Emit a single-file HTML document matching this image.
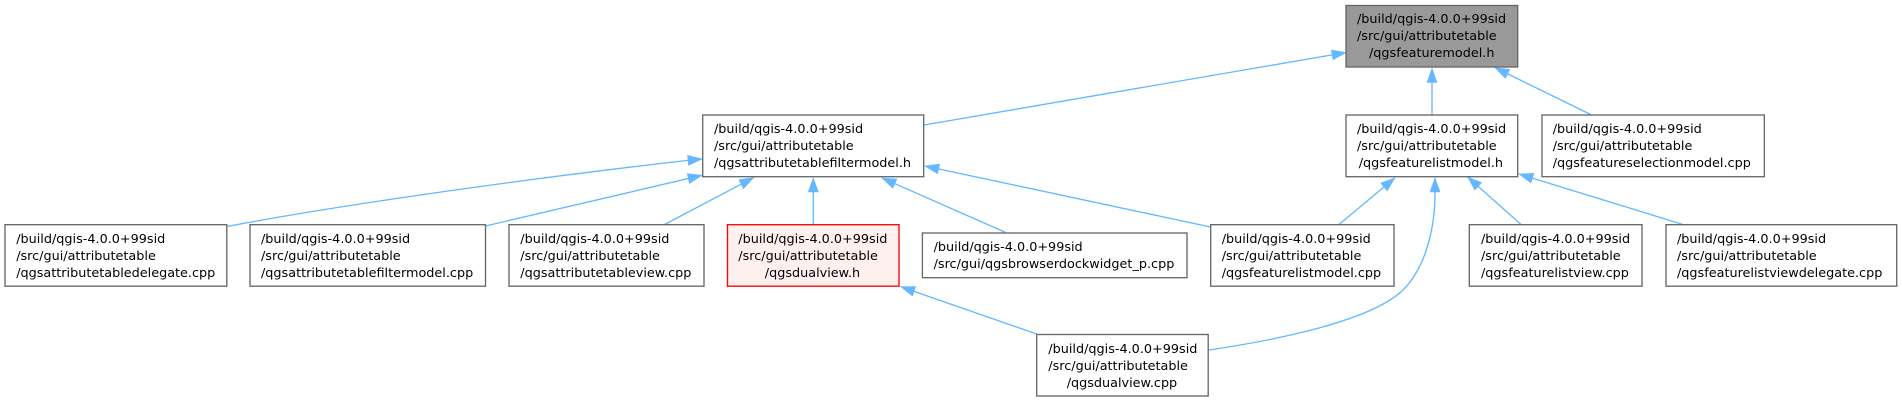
<!DOCTYPE html>
<html><head><meta charset="utf-8"><style>
html,body{margin:0;padding:0;background:#fff}
svg{display:block}
text{font-family:"DejaVu Sans",sans-serif;font-size:12.8px;fill:#000}
.b{fill:#fff;stroke:#666;stroke-width:1.33}
.e{fill:none;stroke:#63b8ff;stroke-width:1.33;marker-start:url(#a)}
</style></head><body>
<svg width="1902" height="401" viewBox="0 0 1902 401" xmlns="http://www.w3.org/2000/svg">
<defs><marker id="a" markerUnits="userSpaceOnUse" markerWidth="18" markerHeight="14" refX="0" refY="7" orient="auto" overflow="visible"><polygon points="0,7 14,2 14,12" fill="#63b8ff" stroke="#63b8ff" stroke-width="0.6"/></marker></defs>
<path class="e" d="M1346,52.5 L924,125"/>
<path class="e" d="M1432,68.5 L1432,115"/>
<path class="e" d="M1495,67.7 L1590.6,114.5"/>
<path class="e" d="M1394.8,178 L1339,224.5"/>
<path class="e" d="M1435,178 L1435,193 C1435,230 1425,268 1403,290 C1370,322 1270,341 1209,350"/>
<path class="e" d="M1467.7,177 L1521,224.5"/>
<path class="e" d="M1519,174 L1683,224.5"/>
<path class="e" d="M702,159 L687,160.5 C550,176 350,203 227,226.5"/>
<path class="e" d="M702,175.3 L485.5,226"/>
<path class="e" d="M753.6,177.7 L664.5,224.5"/>
<path class="e" d="M813.3,178 L813.3,224.5"/>
<path class="e" d="M882,178 L1005.7,232.5"/>
<path class="e" d="M925,166 L1210.5,227"/>
<path class="e" d="M900.8,286.7 L1036.7,334"/>

<rect x="1346" y="5.5" width="171.7" height="61.5" fill="#999" stroke="#666" stroke-width="1.33"/>
<text x="1357" y="23">/build/qgis-4.0.0+99sid</text><text x="1357" y="40">/src/gui/attributetable</text><text x="1369" y="57">/qgsfeaturemodel.h</text>

<rect class="b" x="702.7" y="115" width="221" height="61.7"/>
<text x="714" y="133">/build/qgis-4.0.0+99sid</text><text x="714" y="150">/src/gui/attributetable</text><text x="714" y="167">/qgsattributetablefiltermodel.h</text>

<rect class="b" x="1346" y="115" width="171.7" height="61.7"/>
<text x="1357" y="133">/build/qgis-4.0.0+99sid</text><text x="1357" y="150">/src/gui/attributetable</text><text x="1358.7" y="167">/qgsfeaturelistmodel.h</text>

<rect class="b" x="1542" y="115" width="222.3" height="61.7"/>
<text x="1552.7" y="133">/build/qgis-4.0.0+99sid</text><text x="1552.7" y="150">/src/gui/attributetable</text><text x="1552.7" y="167">/qgsfeatureselectionmodel.cpp</text>

<rect class="b" x="5" y="224.7" width="221.8" height="61.5"/>
<text x="16.2" y="243">/build/qgis-4.0.0+99sid</text><text x="16.2" y="260">/src/gui/attributetable</text><text x="16.2" y="277">/qgsattributetabledelegate.cpp</text>

<rect class="b" x="250" y="224.7" width="235.5" height="61.5"/>
<text x="261" y="243">/build/qgis-4.0.0+99sid</text><text x="261" y="260">/src/gui/attributetable</text><text x="261" y="277">/qgsattributetablefiltermodel.cpp</text>

<rect class="b" x="509" y="224.7" width="195" height="61.5"/>
<text x="520.3" y="243">/build/qgis-4.0.0+99sid</text><text x="520.3" y="260">/src/gui/attributetable</text><text x="520.3" y="277">/qgsattributetableview.cpp</text>

<rect x="727.5" y="224.7" width="171.5" height="61.5" fill="#fff0f0" stroke="#f00" stroke-width="1.33"/>
<text x="738.3" y="243">/build/qgis-4.0.0+99sid</text><text x="738.3" y="260">/src/gui/attributetable</text><text x="764.8" y="277">/qgsdualview.h</text>

<rect class="b" x="922.4" y="233" width="264.6" height="44.7"/>
<text x="933.6" y="251">/build/qgis-4.0.0+99sid</text><text x="933.6" y="268">/src/gui/qgsbrowserdockwidget_p.cpp</text>

<rect class="b" x="1210.7" y="224.7" width="183.3" height="61.5"/>
<text x="1221.7" y="243">/build/qgis-4.0.0+99sid</text><text x="1221.7" y="260">/src/gui/attributetable</text><text x="1221.7" y="277">/qgsfeaturelistmodel.cpp</text>

<rect class="b" x="1469.3" y="224.7" width="172.7" height="61.5"/>
<text x="1481" y="243">/build/qgis-4.0.0+99sid</text><text x="1481" y="260">/src/gui/attributetable</text><text x="1481" y="277">/qgsfeaturelistview.cpp</text>

<rect class="b" x="1666" y="224.7" width="230.7" height="61.5"/>
<text x="1677" y="243">/build/qgis-4.0.0+99sid</text><text x="1677" y="260">/src/gui/attributetable</text><text x="1677" y="277">/qgsfeaturelistviewdelegate.cpp</text>

<rect class="b" x="1036.7" y="334.5" width="171.5" height="61.5"/>
<text x="1048.3" y="353">/build/qgis-4.0.0+99sid</text><text x="1048.3" y="370">/src/gui/attributetable</text><text x="1066.7" y="387">/qgsdualview.cpp</text>
</svg>
</body></html>
